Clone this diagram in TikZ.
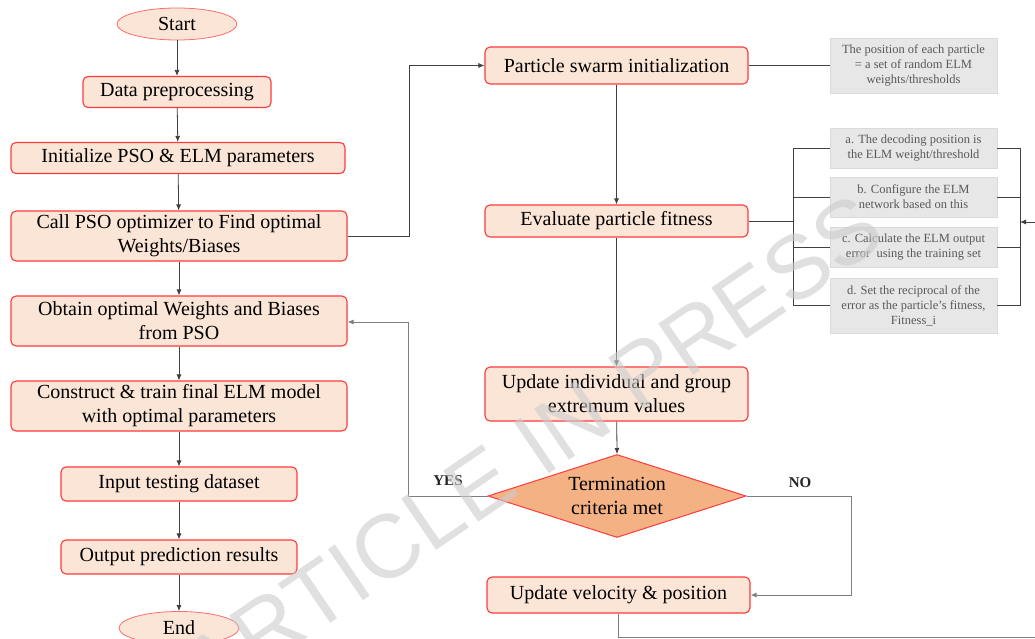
\documentclass[tikz,border=0pt]{standalone}
\usepackage{fontspec}
\setmainfont{Liberation Serif}
\newfontfamily\wmfont{Liberation Sans}
\usetikzlibrary{arrows.meta,shapes.geometric,calc}
\definecolor{boxfill}{HTML}{FBE5D6}
\definecolor{boxdraw}{HTML}{FF3B3B}
\definecolor{dfill}{HTML}{F4B183}
\definecolor{gfill}{HTML}{E7E7E7}
\definecolor{gdraw}{HTML}{DADADA}
\definecolor{gtext}{HTML}{595959}
\definecolor{lnc}{HTML}{404040}
\definecolor{lnl}{HTML}{7F7F7F}
\begin{document}
\begin{tikzpicture}[x=1pt,y=1pt,
 proc/.style={draw=boxdraw, fill=boxfill, line width=1.1pt, rounded corners=5pt, align=center, inner sep=0pt, font=\fontsize{20}{24}\selectfont},
 term/.style={ellipse, draw=boxdraw!75, fill=boxfill, line width=0.8pt, inner sep=0pt, font=\fontsize{20}{24}\selectfont},
 dec/.style={diamond, draw=boxdraw, fill=dfill, line width=1pt, inner sep=0pt, aspect=3.1, align=center, font=\fontsize{20}{24}\selectfont},
 note/.style={fill=gfill, draw=gdraw, line width=0.6pt, align=center, inner sep=0pt, text=gtext, minimum width=167, font=\fontsize{12.5}{15}\selectfont},
 con/.style={draw=lnc, line width=0.8pt},
 conl/.style={draw=lnl, line width=0.9pt},
 arr/.style={con, -{Latex[length=6pt,width=5pt]}},
 arrl/.style={conl, -{Latex[length=6pt,width=5pt]}},
 lbl/.style={font=\bfseries\fontsize{15}{18}\selectfont, text=black!85}
]
\useasboundingbox (0,0) rectangle (1035,-639);
\fill[white] (0,0) rectangle (1035,-639);
% left column
\node[term, minimum width=120, minimum height=32] (start) at (177,-24) {Start};
\node[proc, minimum width=188, minimum height=31] (prep) at (177,-92) {Data preprocessing};
\node[proc, minimum width=334, minimum height=31] (init) at (178,-158) {Initialize PSO \& ELM parameters};
\node[proc, minimum width=336, minimum height=50] (call) at (179,-236) {Call PSO optimizer to Find optimal\\Weights/Biases};
\node[proc, minimum width=336, minimum height=50] (obt) at (179,-321) {Obtain optimal Weights and Biases\\from PSO};
\node[proc, minimum width=336, minimum height=50] (cons) at (179,-406) {Construct \& train final ELM model\\with optimal parameters};
\node[proc, minimum width=236, minimum height=34] (inp) at (179,-484) {Input testing dataset};
\node[proc, minimum width=236, minimum height=34] (outp) at (179,-557) {Output prediction results};
\node[term, minimum width=120, minimum height=33] (end) at (179,-628) {End};
% right column
\node[proc, minimum width=263, minimum height=37] (psi) at (616.5,-65.5) {Particle swarm initialization};
\node[proc, minimum width=263, minimum height=32] (eval) at (616.5,-221) {Evaluate particle fitness};
\node[proc, minimum width=263, minimum height=54] (upd) at (616.5,-394) {Update individual and group\\extremum values};
\node[dec, minimum width=258, minimum height=83] (dia) at (617,-496) {Termination\\criteria met};
\node[proc, minimum width=263, minimum height=36] (vel) at (618.5,-595) {Update velocity \& position};
% notes
\node[note, minimum height=55] (n0) at (913.5,-65.5) {The position of each particle\\= a set of random ELM\\weights/thresholds};
\node[note, minimum height=40] (na) at (913.5,-148) {a. The decoding position is\\the ELM weight/threshold};
\node[note, minimum height=40] (nb) at (913.5,-197) {b. Configure the ELM\\network based on this};
\node[note, minimum height=40] (nc) at (913.5,-247) {c. Calculate the ELM output\\error\ \ using the training set};
\node[note, minimum height=55] (nd) at (913.5,-305.5) {d. Set the reciprocal of the\\error as the particle's fitness,\\Fitness\_i};
% labels
\node[lbl] (yes) at (448,-481) {YES};
\node[lbl] (no) at (800,-483) {NO};
% left connectors
\draw[arr] (start) -- (prep);
\draw[arr] (prep) -- (init);
\draw[arr] (init) -- (call);
\draw[arr] (call) -- (obt);
\draw[arr] (obt) -- (cons);
\draw[arr] (cons) -- (inp);
\draw[arr] (inp) -- (outp);
\draw[arr] (outp) -- (end);
\draw[arr] (call.east) -- ++(62,0) |- (psi.west);
% right connectors
\draw[arr] (psi) -- (eval);
\draw[arr] (eval) -- (upd);
\draw[arr] (upd) -- (dia.north);
\draw[arrl] (dia.west) -- ++(-79,0) |- ([yshift=-1pt]obt.east);
\draw[arrl] (dia.east) -- ++(105,0) |- (vel.east);
\coordinate (bout) at (1035,-637);
\draw[conl] (vel.south) |- (bout);
\draw[con] (psi.east) -- (n0.west);
% bracket
\coordinate (bl) at (793,-221);
\coordinate (br) at (1020,-222);
\coordinate (rin) at (1035,-222);
\draw[con] (eval.east) -- (bl);
\draw[con] (na.west) -- (na.west -| bl) -- (nd.west -| bl) -- (nd.west);
\draw[con] (nb.west) -- (nb.west -| bl);
\draw[con] (nc.west) -- (nc.west -| bl);
\draw[con] (na.east) -- (na.east -| br) -- (nd.east -| br) -- (nd.east);
\draw[con] (nb.east) -- (nb.east -| br);
\draw[con] (nc.east) -- (nc.east -| br);
\draw[arr] (rin) -- (br);
% watermark
\node[rotate=34.3, font=\wmfont\fontsize{90}{90}\selectfont, text=black!20, opacity=0.6] (wm) at (532,-448) {ARTICLE IN PRESS};
\end{tikzpicture}
\end{document}
